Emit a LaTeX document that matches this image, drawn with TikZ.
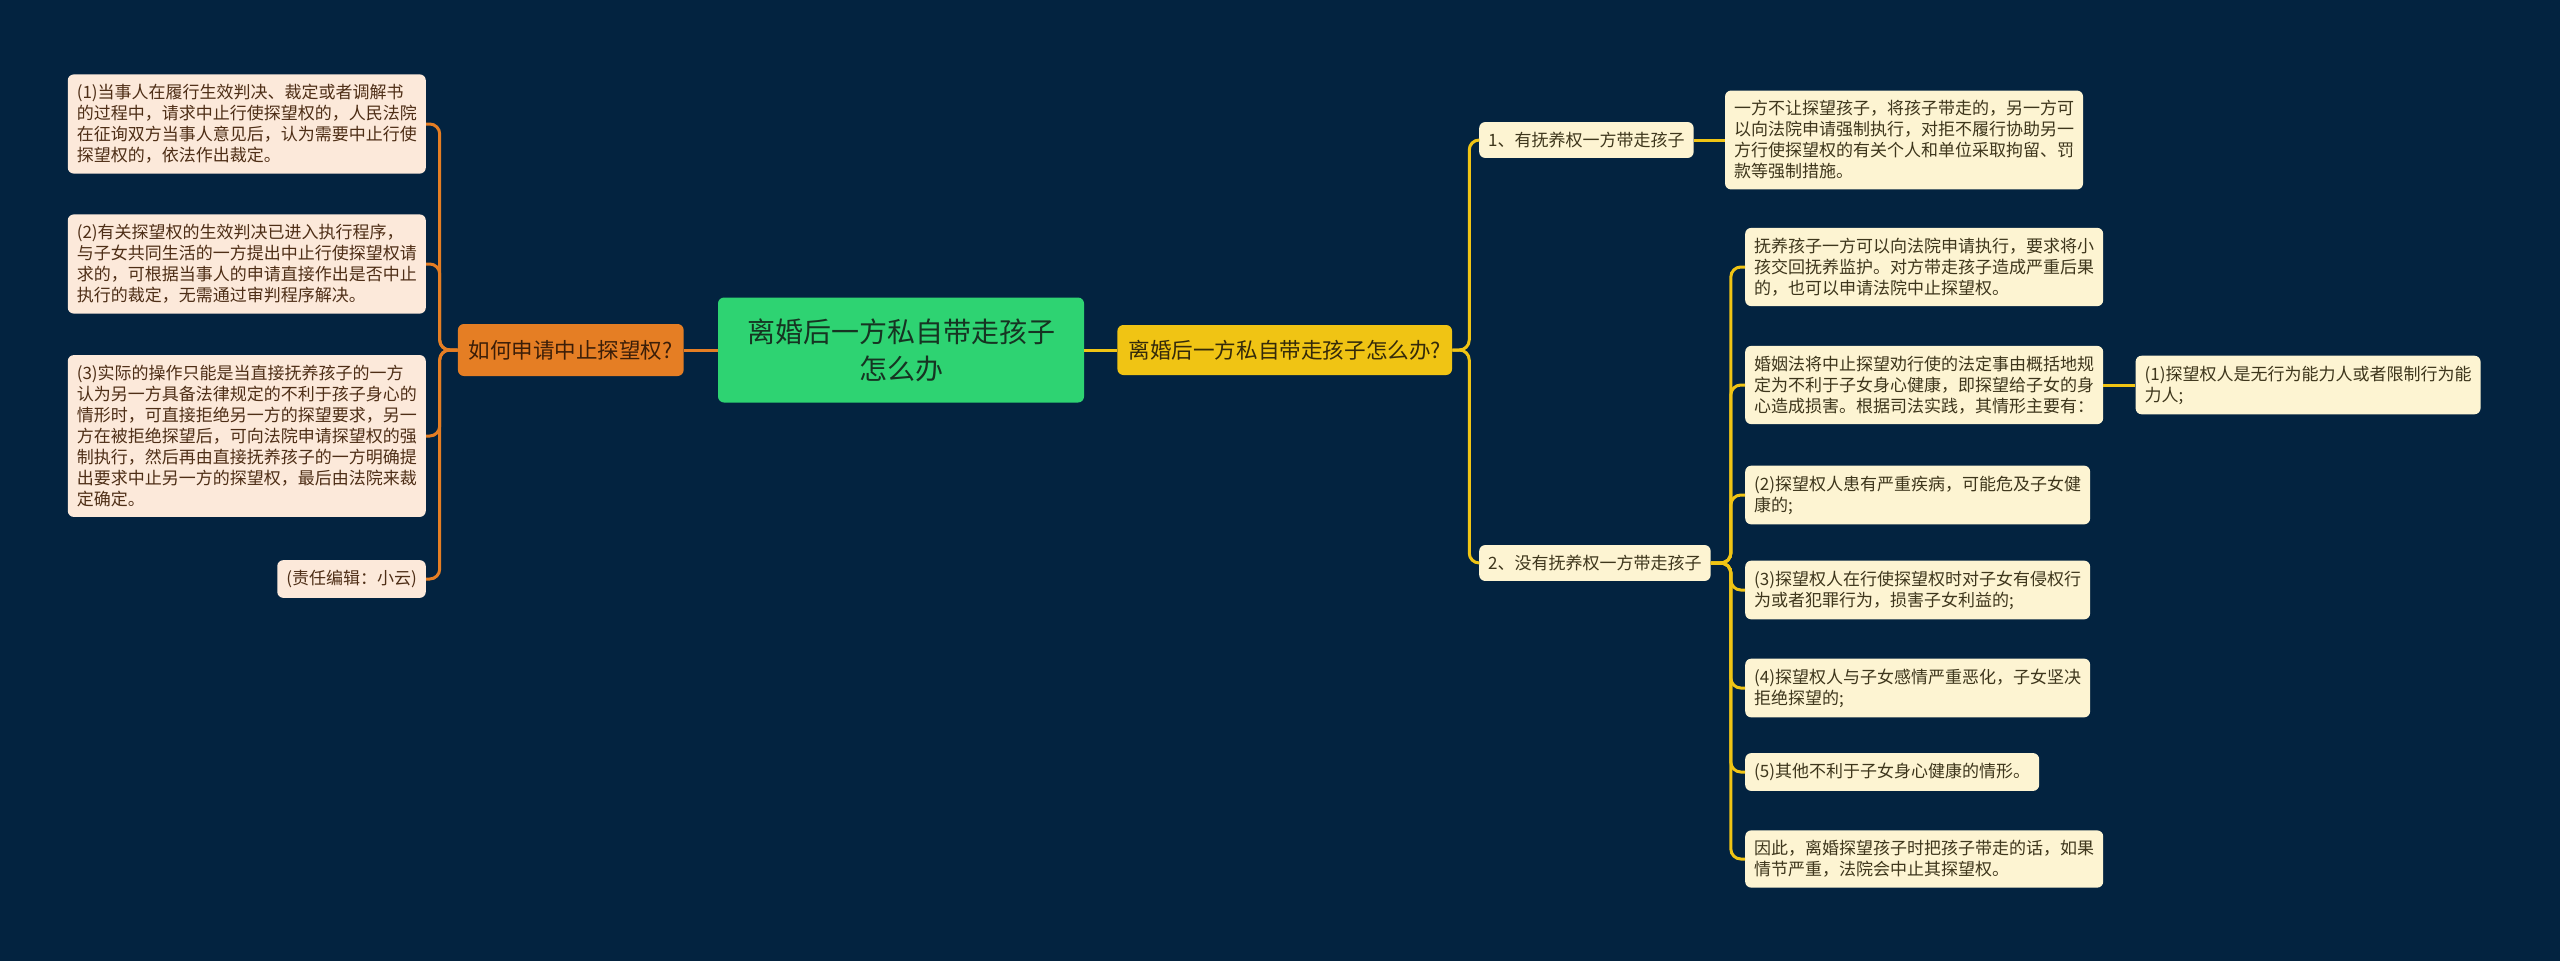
\documentclass[tikz,border=0pt]{standalone}
\usepackage{fontspec}
\setmainfont{Noto Sans CJK SC}
\usetikzlibrary{positioning}
\definecolor{bgnavy}{RGB}{3,35,64}
\definecolor{rootgreen}{RGB}{46,211,114}
\definecolor{roottext}{RGB}{22,52,34}
\definecolor{askorange}{RGB}{229,126,36}
\definecolor{asktext}{RGB}{60,30,8}
\definecolor{howyellow}{RGB}{240,196,20}
\definecolor{howtext}{RGB}{52,42,10}
\definecolor{peachfill}{RGB}{252,233,218}
\definecolor{peachtext}{RGB}{78,46,22}
\definecolor{creamfill}{RGB}{253,244,210}
\definecolor{creamtext}{RGB}{62,54,28}
\tikzset{
  rootbox/.style={
    rectangle, rounded corners=6pt, fill=rootgreen, text=roottext,
    minimum width=366pt, minimum height=105pt, align=center,
    font=\fontsize{28}{37}\selectfont
  },
  askbox/.style={
    rectangle, rounded corners=6pt, fill=askorange, text=asktext,
    minimum height=52pt, inner xsep=11pt,
    font=\fontsize{21.5}{26}\selectfont
  },
  howbox/.style={
    rectangle, rounded corners=6pt, fill=howyellow, text=howtext,
    minimum height=50pt, inner xsep=11pt,
    font=\fontsize{21.6}{26}\selectfont
  },
  peachleaf/.style={
    rectangle, rounded corners=6pt, fill=peachfill, text=peachtext,
    align=left, inner xsep=9pt, inner ysep=10pt,
    font=\fontsize{17}{21}\selectfont
  },
  creamleaf/.style={
    rectangle, rounded corners=6pt, fill=creamfill, text=creamtext,
    align=left, inner xsep=9pt, inner ysep=10pt,
    font=\fontsize{17}{21}\selectfont
  },
  orangelink/.style={draw=askorange, line width=3pt, rounded corners=10pt},
  yellowlink/.style={draw=howyellow, line width=3pt, rounded corners=10pt},
}

\begin{document}
\begin{tikzpicture}[x=1pt, y=-1pt]

%% ── Background ───────────────────────────────────────────────────────────
\fill[bgnavy] (0,0) rectangle (2560,961);
\useasboundingbox (0,0) rectangle (2560,961);

%% ── Root and the two main branches ───────────────────────────────────────
\node[rootbox] (root) at (901,350) {离婚后一方私自带走孩子\\怎么办};
\node[askbox, left=34pt of root] (ask) {如何申请中止探望权?};
\node[howbox, right=33pt of root] (how) {离婚后一方私自带走孩子怎么办?};

%% ── Left leaves ──────────────────────────────────────────────────────────
\node[peachleaf, anchor=east] (l1) at (426,124) {%
  (1)当事人在履行生效判决、裁定或者调解书\\
  的过程中，请求中止行使探望权的，人民法院\\
  在征询双方当事人意见后，认为需要中止行使\\
  探望权的，依法作出裁定。};
\node[peachleaf, anchor=east] (l2) at (426,264) {%
  (2)有关探望权的生效判决已进入执行程序，\\
  与子女共同生活的一方提出中止行使探望权请\\
  求的，可根据当事人的申请直接作出是否中止\\
  执行的裁定，无需通过审判程序解决。};
\node[peachleaf, anchor=east] (l3) at (426,436) {%
  (3)实际的操作只能是当直接抚养孩子的一方\\
  认为另一方具备法律规定的不利于孩子身心的\\
  情形时，可直接拒绝另一方的探望要求，另一\\
  方在被拒绝探望后，可向法院申请探望权的强\\
  制执行，然后再由直接抚养孩子的一方明确提\\
  出要求中止另一方的探望权，最后由法院来裁\\
  定确定。};
\node[peachleaf, anchor=east] (l4) at (426,579) {(责任编辑：小云)};

%% ── Right side: two cases ────────────────────────────────────────────────
\node[creamleaf, anchor=west] (r1) at (1479,140) {1、有抚养权一方带走孩子};
\node[creamleaf, anchor=west] (r2) at (1479,563) {2、没有抚养权一方带走孩子};

\node[creamleaf, right=31pt of r1] (r1a) {%
  一方不让探望孩子，将孩子带走的，另一方可\\
  以向法院申请强制执行，对拒不履行协助另一\\
  方行使探望权的有关个人和单位采取拘留、罚\\
  款等强制措施。};

\node[creamleaf, anchor=west] (c1) at (1745,267) {%
  抚养孩子一方可以向法院申请执行，要求将小\\
  孩交回抚养监护。对方带走孩子造成严重后果\\
  的，也可以申请法院中止探望权。};
\node[creamleaf, anchor=west] (c2) at (1745,385) {%
  婚姻法将中止探望劝行使的法定事由概括地规\\
  定为不利于子女身心健康，即探望给子女的身\\
  心造成损害。根据司法实践，其情形主要有：};
\node[creamleaf, anchor=west] (c3) at (1745,495) {%
  (2)探望权人患有严重疾病，可能危及子女健\\
  康的;};
\node[creamleaf, anchor=west] (c4) at (1745,590) {%
  (3)探望权人在行使探望权时对子女有侵权行\\
  为或者犯罪行为，损害子女利益的;};
\node[creamleaf, anchor=west] (c5) at (1745,688) {%
  (4)探望权人与子女感情严重恶化，子女坚决\\
  拒绝探望的;};
\node[creamleaf, anchor=west] (c6) at (1745,772) {(5)其他不利于子女身心健康的情形。};
\node[creamleaf, anchor=west] (c7) at (1745,859) {%
  因此，离婚探望孩子时把孩子带走的话，如果\\
  情节严重，法院会中止其探望权。};

\node[creamleaf, right=32pt of c2] (c2a) {%
  (1)探望权人是无行为能力人或者限制行为能\\
  力人;};

%% ── Connectors ───────────────────────────────────────────────────────────
\draw[orangelink] (root.west) -- (ask.east);
\foreach \leaf in {l1,l2,l3,l4}
  \draw[orangelink] (ask.west) -- ++(-18,0) |- (\leaf.east);

\draw[yellowlink] (root.east) -- (how.west);
\foreach \case in {r1,r2}
  \draw[yellowlink] (how.east) -- ++(17,0) |- (\case.west);
\draw[yellowlink] (r1.east) -- (r1a.west);
\foreach \sub in {c1,c2,c3,c4,c5,c6,c7}
  \draw[yellowlink] (r2.east) -- ++(20,0) |- (\sub.west);
\draw[yellowlink] (c2.east) -- (c2a.west);

\end{tikzpicture}
\end{document}
